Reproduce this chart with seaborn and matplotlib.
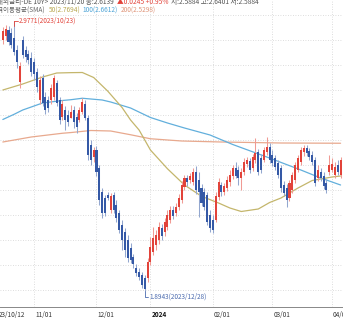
import numpy as np
import pandas as pd
import matplotlib
matplotlib.use("Agg")
import matplotlib.pyplot as plt
import matplotlib.transforms as mtransforms
import seaborn as sns

# ---- trading calendar (weekdays minus the year-end closures) ----
holidays = ["2023-12-25", "2023-12-26", "2024-01-01"]
sessions = pd.bdate_range("2023-10-12", "2024-04-04")
sessions = sessions[~sessions.isin(pd.to_datetime(holidays))]
pos = {d: i for i, d in enumerate(sessions)}

# ---- daily OHLC, DE 10Y yield, 2023-10-17 .. 2024-04-04 ----
open_ = [
    2.900, 2.916, 2.940, 2.928, 2.908, 2.860, 2.732, 2.900, 2.860, 2.844, 2.828,
    2.812, 2.772, 2.660, 2.748, 2.672, 2.660, 2.660, 2.672, 2.728, 2.660, 2.592,
    2.620, 2.600, 2.5884, 2.620, 2.592, 2.580, 2.612, 2.644, 2.588, 2.480, 2.432,
    2.460, 2.388, 2.292, 2.268, 2.280, 2.220, 2.280, 2.240, 2.208, 2.160, 2.132,
    2.100, 2.068, 2.032, 1.988, 1.972, 1.960, 1.948, 1.948,
    2.012, 2.052, 2.080, 2.100, 2.148, 2.132, 2.152, 2.180, 2.220, 2.208, 2.232,
    2.260, 2.312, 2.348, 2.340, 2.332, 2.372, 2.340, 2.308, 2.292, 2.280, 2.200,
    2.180, 2.180, 2.272, 2.320, 2.292, 2.308, 2.332, 2.356, 2.388, 2.380, 2.348,
    2.372, 2.404, 2.416, 2.388, 2.420, 2.452, 2.428, 2.420, 2.452, 2.472,
    2.440, 2.428, 2.408, 2.388, 2.320, 2.308, 2.268, 2.300, 2.340, 2.380, 2.412,
    2.452, 2.468, 2.456, 2.440, 2.420, 2.348, 2.372, 2.356, 2.328, 2.372,
    2.380, 2.360, 2.400, 2.360,
]
high = [
    2.952, 2.960, 2.956, 2.948, 2.9771, 2.880, 2.812, 2.916, 2.876, 2.860, 2.852,
    2.828, 2.788, 2.756, 2.764, 2.692, 2.676, 2.724, 2.760, 2.740, 2.672, 2.660,
    2.636, 2.620, 2.6401, 2.636, 2.608, 2.632, 2.668, 2.660, 2.600, 2.500, 2.472,
    2.476, 2.400, 2.308, 2.280, 2.292, 2.288, 2.292, 2.260, 2.220, 2.180, 2.148,
    2.120, 2.088, 2.044, 2.004, 1.988, 1.972, 1.960, 2.028,
    2.112, 2.152, 2.140, 2.172, 2.164, 2.188, 2.220, 2.236, 2.236, 2.248, 2.284,
    2.336, 2.360, 2.360, 2.368, 2.388, 2.396, 2.372, 2.324, 2.308, 2.292, 2.220,
    2.200, 2.292, 2.348, 2.332, 2.328, 2.356, 2.380, 2.400, 2.412, 2.396, 2.388,
    2.428, 2.432, 2.428, 2.444, 2.508, 2.464, 2.444, 2.472, 2.512, 2.488,
    2.460, 2.440, 2.420, 2.400, 2.336, 2.324, 2.340, 2.372, 2.412, 2.440, 2.472,
    2.480, 2.480, 2.468, 2.456, 2.432, 2.400, 2.388, 2.372, 2.344, 2.440,
    2.428, 2.412, 2.420, 2.432,
]
low = [
    2.884, 2.900, 2.880, 2.868, 2.840, 2.788, 2.708, 2.828, 2.812, 2.804, 2.756,
    2.740, 2.692, 2.644, 2.636, 2.604, 2.612, 2.644, 2.660, 2.636, 2.564, 2.580,
    2.540, 2.556, 2.5884, 2.548, 2.528, 2.572, 2.604, 2.580, 2.420, 2.400, 2.412,
    2.356, 2.240, 2.188, 2.196, 2.260, 2.208, 2.208, 2.172, 2.128, 2.060, 2.032,
    2.012, 2.008, 1.988, 1.956, 1.940, 1.908, 1.8943, 1.932,
    2.000, 2.040, 2.060, 2.084, 2.100, 2.116, 2.140, 2.168, 2.184, 2.196, 2.220,
    2.248, 2.300, 2.316, 2.328, 2.320, 2.284, 2.192, 2.236, 2.220, 2.160, 2.132,
    2.128, 2.172, 2.260, 2.276, 2.280, 2.296, 2.316, 2.344, 2.348, 2.320, 2.300,
    2.360, 2.392, 2.368, 2.376, 2.408, 2.360, 2.368, 2.412, 2.440, 2.408,
    2.396, 2.380, 2.348, 2.292, 2.276, 2.232, 2.256, 2.288, 2.328, 2.372, 2.400,
    2.436, 2.436, 2.420, 2.400, 2.316, 2.336, 2.336, 2.304, 2.288, 2.360,
    2.372, 2.348, 2.360, 2.348,
]
close = [
    2.936, 2.944, 2.892, 2.880, 2.852, 2.812, 2.796, 2.840, 2.832, 2.820, 2.772,
    2.764, 2.712, 2.740, 2.648, 2.620, 2.628, 2.708, 2.748, 2.648, 2.580, 2.644,
    2.580, 2.572, 2.6139, 2.572, 2.552, 2.620, 2.652, 2.588, 2.440, 2.420, 2.460,
    2.372, 2.260, 2.208, 2.208, 2.268, 2.276, 2.220, 2.188, 2.140, 2.100, 2.060,
    2.028, 2.020, 2.004, 1.968, 1.952, 1.920, 1.904, 2.012,
    2.072, 2.108, 2.120, 2.152, 2.116, 2.172, 2.200, 2.220, 2.196, 2.232, 2.268,
    2.320, 2.348, 2.332, 2.356, 2.372, 2.300, 2.292, 2.248, 2.232, 2.172, 2.148,
    2.140, 2.276, 2.332, 2.292, 2.316, 2.340, 2.360, 2.388, 2.356, 2.348, 2.372,
    2.412, 2.420, 2.380, 2.432, 2.448, 2.372, 2.380, 2.460, 2.472, 2.420,
    2.408, 2.392, 2.360, 2.308, 2.288, 2.260, 2.328, 2.360, 2.400, 2.428, 2.460,
    2.468, 2.448, 2.432, 2.412, 2.328, 2.380, 2.348, 2.316, 2.300, 2.400,
    2.404, 2.392, 2.372, 2.420,
]

# ---- simple moving averages (50 / 100 / 200 days) ----
sma50_dates = ["2023-10-17", "2023-10-26", "2023-11-06", "2023-11-13", "2023-11-20",
               "2023-11-24", "2023-11-30", "2023-12-07", "2023-12-14", "2023-12-19",
               "2023-12-22", "2024-01-02", "2024-01-10", "2024-01-18", "2024-01-26",
               "2024-02-05", "2024-02-09", "2024-02-15", "2024-02-23", "2024-02-29",
               "2024-03-06", "2024-03-14", "2024-03-21", "2024-04-01", "2024-04-04"]
sma50 = [2.700, 2.724, 2.752, 2.768, 2.7694, 2.770, 2.750, 2.695, 2.630, 2.580,
         2.540, 2.460, 2.385, 2.320, 2.275, 2.248, 2.228, 2.214, 2.224, 2.250,
         2.268, 2.308, 2.338, 2.352, 2.356]

sma100_dates = ["2023-10-17", "2023-10-23", "2023-10-26", "2023-11-06", "2023-11-15",
                "2023-11-20", "2023-11-24", "2023-12-05", "2023-12-08", "2023-12-19",
                "2024-01-02", "2024-01-10", "2024-01-18", "2024-01-31", "2024-02-12",
                "2024-02-28", "2024-03-15", "2024-03-26", "2024-04-04"]
sma100 = [2.582, 2.603, 2.620, 2.648, 2.658, 2.6612, 2.667, 2.660, 2.652, 2.628,
          2.590, 2.568, 2.548, 2.520, 2.482, 2.432, 2.380, 2.348, 2.320]

sma200_dates = ["2023-10-17", "2023-10-31", "2023-11-15", "2023-11-20", "2023-11-29",
                "2023-12-08", "2023-12-19", "2024-01-02", "2024-01-17", "2024-02-06",
                "2024-03-06", "2024-04-04"]
sma200 = [2.492, 2.512, 2.527, 2.5298, 2.538, 2.536, 2.521, 2.505, 2.496, 2.492,
          2.488, 2.487]

first_date, first_label = "2023-10-12", "23/10/12"
tick_dates = ["2023-11-01", "2023-12-01", "2024-01-02",
              "2024-02-01", "2024-03-01", "2024-04-01"]
tick_labels = ["11/01", "12/01", "2024", "02/01", "03/01", "04/01"]

UP, DOWN = "#e2433a", "#3559a6"
UP_WICK, DOWN_WICK = "#f09a94", "#93a7cf"
C50, C100, C200 = "#c4b66c", "#62afdc", "#e8a98e"

sns.set_style("white")
plt.rcParams["font.family"] = ["Noto Sans CJK KR", "DejaVu Sans"]

W, H = 343, 323
fig = plt.figure(figsize=(W / 100, H / 100), dpi=100)
ax = fig.add_axes([0, 1 - 307 / H, 1, 307 / H])

df = pd.DataFrame({"date": sessions[3:], "open": open_, "high": high,
                   "low": low, "close": close})
df["x"] = df["date"].map(pos)
rising = df["close"] >= df["open"]

# moving averages
for dates, vals, col in [(sma200_dates, sma200, C200), (sma100_dates, sma100, C100),
                         (sma50_dates, sma50, C50)]:
    xs = [pos[pd.Timestamp(d)] for d in dates]
    sns.lineplot(x=xs, y=vals, ax=ax, color=col, linewidth=0.9, zorder=2)

# candles: wicks then bodies
ax.vlines(df["x"], df["low"], df["high"],
          colors=np.where(rising, UP_WICK, DOWN_WICK), linewidth=0.75, zorder=3)
body = (df["close"] - df["open"]).abs().clip(lower=0.004)
ax.bar(df["x"], body, bottom=np.minimum(df["open"], df["close"]), width=0.72,
       color=np.where(rising, UP, DOWN), linewidth=0, zorder=4)

# axes frame
ax.set_xlim(2.8, 122.85)
ax.set_ylim(1.832, 3.06)
ax.set_yticks(np.round(np.arange(1.9, 3.01, 0.1), 1))
ax.set_yticklabels([])
ax.tick_params(axis="y", length=0)
tick_pos = [pos[pd.Timestamp(d)] for d in tick_dates]
ax.set_xticks(tick_pos)
ax.set_xticklabels(tick_labels)
mondays = [pos[d] for d in sessions if d.weekday() == 0]
ax.set_xticks(mondays, minor=True)
ax.tick_params(axis="x", which="both", direction="in", length=2.2, width=0.6,
               color="#888888", labelsize=4.6, labelcolor="#333333", pad=3)
shift = mtransforms.ScaledTranslation(1.0 / 100, 0, fig.dpi_scale_trans)
for lab in ax.get_xticklabels():
    lab.set_ha("left")
    lab.set_transform(lab.get_transform() + shift)
    if lab.get_text() == "2024":
        lab.set_fontweight("bold")
        lab.set_color("#111111")
# the first date label sits at the left border of the window
first_tr = mtransforms.blended_transform_factory(ax.transData, ax.transAxes) + \
    mtransforms.ScaledTranslation(4.5 / 100, 0, fig.dpi_scale_trans)
ax.text(pos[pd.Timestamp(first_date)], -0.012, first_label, transform=first_tr,
        fontsize=4.6, color="#333333", ha="left", va="top", clip_on=False)

ax.grid(True, which="major", color="#d2d2d2", linestyle=(0, (1, 2)), linewidth=0.6)
for s in ["left", "right", "top"]:
    ax.spines[s].set_visible(False)
ax.spines["bottom"].set_color("#888888")
ax.spines["bottom"].set_linewidth(0.7)
ax.set_xlabel("")
ax.set_ylabel("")

# extreme markers
i_hi = int(np.argmax(df["high"]))
i_lo = int(np.argmin(df["low"]))
xh, yh = df["x"].iloc[i_hi], df["high"].iloc[i_hi]
xl, yl = df["x"].iloc[i_lo], df["low"].iloc[i_lo]
ax.plot([xh, xh + 1.3], [yh, yh], color="#e2433a", linewidth=0.6, zorder=5)
ax.plot([xh, xh], [yh, yh - 0.02], color="#e2433a", linewidth=0.6, zorder=5)
ax.text(xh + 1.5, yh, f"{yh:.4f}({df['date'].iloc[i_hi]:%Y/%m/%d})",
        color="#e2433a", fontsize=4.6, va="center", ha="left", zorder=6)
ax.plot([xl, xl, xl + 1.3], [yl, yl - 0.022, yl - 0.022], color="#4a6aae",
        linewidth=0.6, zorder=5)
ax.text(xl + 1.5, yl - 0.022, f"{yl:.4f}({df['date'].iloc[i_lo]:%Y/%m/%d})",
        color="#4a6aae", fontsize=4.6, va="center", ha="left", zorder=6)


def chained(parts, x_px, y_px, size):
    prev = None
    for text, col in parts:
        if prev is None:
            prev = fig.text(x_px / W, 1 - y_px / H, text, color=col, fontsize=size,
                            ha="left", va="center")
        else:
            prev = fig.add_artist(matplotlib.text.Annotation(
                text, xy=(1, 0.5), xycoords=prev, xytext=(2.0, 0),
                textcoords="offset points", color=col, fontsize=size,
                ha="left", va="center", annotation_clip=False))


chained([("<해외금리-DE 10Y> 2023/11/20 종:2.6139", "#555555"),
         ("▲0.0245 +0.95%", "#e2433a"),
         ("시:2.5884 고:2.6401 저:2.5884", "#555555")], -7, 2, 4.8)
chained([("가격이동평균(SMA)", "#666666"),
         ("50(2.7694)", "#b8a850"),
         ("100(2.6612)", "#4ea4d6"),
         ("200(2.5298)", "#e0967a")], -8, 10.5, 4.7)

fig.savefig("out.png", dpi=100)
